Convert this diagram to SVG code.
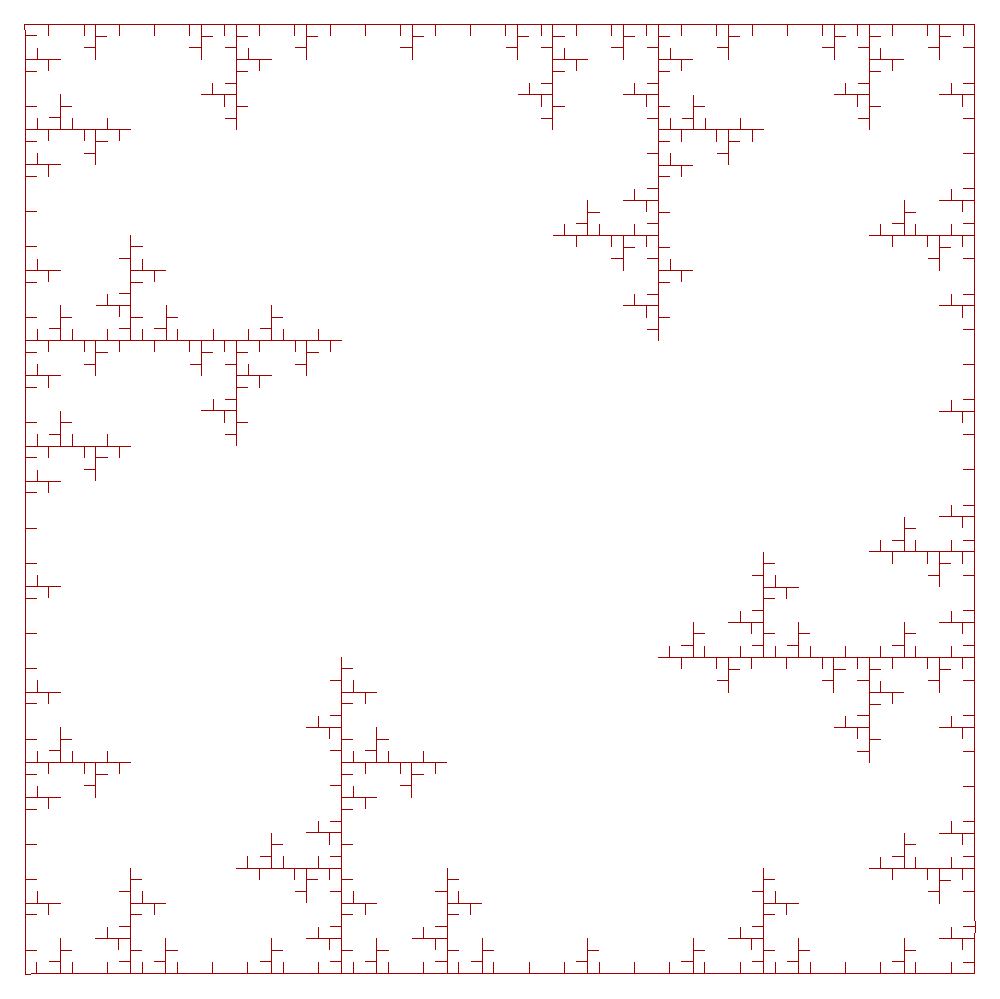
<svg xmlns="http://www.w3.org/2000/svg" xmlns:xlink="http://www.w3.org/1999/xlink" width="1000" height="999" viewBox="0 0 1000 999">
<style>
.f{fill:none;stroke:#a00000;stroke-width:1;shape-rendering:crispEdges}
</style>
<defs>
<path id="s1" d="M0 0H35.16M11.72 0V-11.72M23.44 0V11.72"/>
<g id="s2">
<use href="#s1"/>
<use href="#s1" transform="translate(35.16 0)"/>
<use href="#s1" transform="translate(70.32 0)"/>
<use href="#s1" transform="translate(35.16 0) rotate(-90)"/>
<use href="#s1" transform="translate(70.32 0) rotate(90)"/>
</g>
<g id="s3">
<use href="#s2"/>
<use href="#s2" transform="translate(105.48 0)"/>
<use href="#s2" transform="translate(210.96 0)"/>
<use href="#s2" transform="translate(105.48 0) rotate(-90)"/>
<use href="#s2" transform="translate(210.96 0) rotate(90)"/>
</g>
<path id="w1" d="M23.44 0V11.72"/>
<g id="w2">
<use href="#w1"/>
<use href="#w1" transform="translate(35.16 0)"/>
<use href="#w1" transform="translate(70.32 0)"/>
<use href="#s1" transform="translate(70.32 0) rotate(90)"/>
</g>
<g id="w3">
<use href="#w2"/>
<use href="#w2" transform="translate(105.48 0)"/>
<use href="#w2" transform="translate(210.96 0)"/>
<use href="#s2" transform="translate(210.96 0) rotate(90)"/>
</g>
<g id="w4">
<use href="#w3"/>
<use href="#w3" transform="translate(316.44 0)"/>
<use href="#w3" transform="translate(632.88 0)"/>
<use href="#s3" transform="translate(632.88 0) rotate(90)"/>
</g>
</defs>
<g id="fractal" class="f">
<path id="outline" d="M24.5 30V24.5H974.5V921M975.5 921V933M974.5 933V973.5H31M31 974.5H25.5V30"/>
<use id="top" href="#w4" transform="translate(25.4 24.5)"/>
<use id="right" href="#w4" transform="translate(974.5 24.5) rotate(90)"/>
<use id="bottom" href="#w4" transform="translate(974.5 973.5) rotate(180)"/>
<use id="left" href="#w4" transform="translate(25.5 973.5) rotate(270)"/>
</g>
</svg>
